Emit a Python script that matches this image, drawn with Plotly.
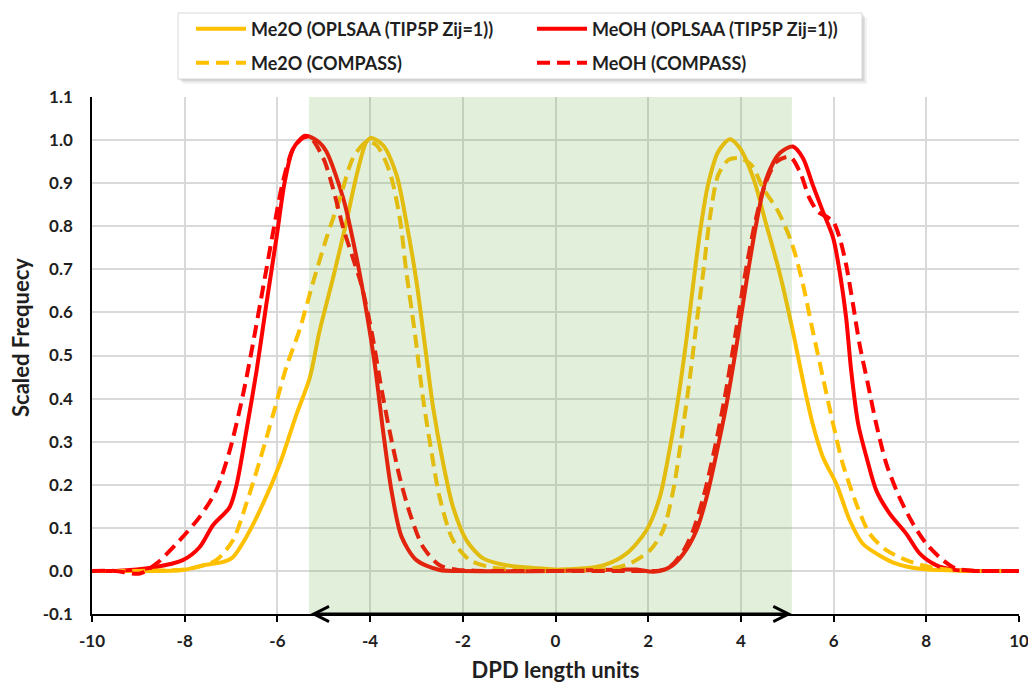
import plotly.graph_objects as go

# Scaled frequency distributions along the DPD length axis
me2o_oplsaa_x = [-10, -9, -8.04, -7.6, -7.17, -6.96, -6.67, -6.31, -5.95, -5.6, -5.30, -5.09,
                 -4.80, -4.51, -4.29, -4.08, -3.97, -3.72, -3.43, -3.22, -3.0, -2.82, -2.64,
                 -2.42, -2.21, -1.92, -1.56, -1.06, -0.48, 0.09, 1.03, 1.53, 1.96, 2.25, 2.47,
                 2.65, 2.83, 2.97, 3.12, 3.29, 3.51, 3.76, 3.98, 4.27, 4.55, 4.84, 5.12, 5.34,
                 5.55, 5.77, 6.06, 6.35, 6.63, 6.99, 7.35, 7.86, 8.29, 9, 10]
me2o_oplsaa_y = [0, 0, 0.002, 0.013, 0.021, 0.032, 0.079, 0.156, 0.248, 0.36, 0.449, 0.557,
                 0.68, 0.811, 0.919, 0.996, 1.005, 0.988, 0.919, 0.811, 0.672, 0.526, 0.379,
                 0.248, 0.148, 0.071, 0.029, 0.013, 0.007, 0.003, 0.013, 0.04, 0.094, 0.171,
                 0.287, 0.402, 0.541, 0.665, 0.788, 0.896, 0.973, 1.002, 0.981, 0.911, 0.803,
                 0.69, 0.557, 0.441, 0.341, 0.264, 0.202, 0.117, 0.063, 0.036, 0.017, 0.005,
                 0.002, 0, 0]

me2o_compass_x = [-10, -9, -7.89, -7.32, -6.96, -6.67, -6.38, -6.09, -5.81, -5.52, -5.23, -4.94,
                  -4.65, -4.37, -4.08, -3.86, -3.58, -3.36, -3.22, -3.04, -2.86, -2.68, -2.50,
                  -2.21, -1.85, -1.42, -1.0, 0, 1.17, 1.6, 2.04, 2.32, 2.54, 2.72, 2.9, 3.04,
                  3.19, 3.33, 3.51, 3.73, 3.98, 4.23, 4.48, 4.80, 5.10, 5.34, 5.55, 5.77, 5.99,
                  6.2, 6.49, 6.78, 7.14, 7.57, 8.07, 8.58, 9.2, 10]
me2o_compass_y = [0, 0, 0.005, 0.025, 0.071, 0.156, 0.256, 0.364, 0.472, 0.56, 0.67, 0.773,
                  0.865, 0.958, 0.996, 0.988, 0.927, 0.819, 0.695, 0.557, 0.402, 0.279, 0.171,
                  0.071, 0.025, 0.009, 0.003, 0, 0.005, 0.017, 0.048, 0.094, 0.187, 0.31, 0.449,
                  0.572, 0.695, 0.819, 0.919, 0.954, 0.958, 0.942, 0.888, 0.835, 0.76, 0.665,
                  0.557, 0.449, 0.341, 0.248, 0.156, 0.086, 0.048, 0.025, 0.009, 0.002, 0, 0]

meoh_oplsaa_x = [-10, -9.5, -8.68, -8.04, -7.68, -7.39, -7.03, -6.88, -6.67, -6.45, -6.24, -6.02,
                 -5.84, -5.66, -5.40, -5.1, -4.94, -4.58, -4.29, -4.08, -3.90, -3.72, -3.54,
                 -3.32, -3.0, -2.5, -2.0, 0, 1.75, 2.11, 2.47, 2.76, 3.04, 3.26, 3.47, 3.69,
                 3.91, 4.12, 4.34, 4.55, 4.84, 5.12, 5.34, 5.55, 5.77, 5.99, 6.13, 6.27, 6.38,
                 6.53, 6.71, 6.92, 7.21, 7.57, 7.86, 8.22, 8.58, 9, 10]
meoh_oplsaa_y = [0, 0, 0.008, 0.025, 0.055, 0.106, 0.148, 0.20, 0.325, 0.464, 0.618, 0.773,
                 0.904, 0.98, 1.01, 0.995, 0.973, 0.865, 0.726, 0.603, 0.48, 0.325, 0.187,
                 0.079, 0.025, 0.002, 0, 0, 0.003, -0.002, 0.009, 0.04, 0.094, 0.171, 0.271,
                 0.387, 0.526, 0.672, 0.811, 0.911, 0.97, 0.985, 0.958, 0.896, 0.834, 0.773,
                 0.695, 0.588, 0.464, 0.341, 0.264, 0.187, 0.133, 0.086, 0.04, 0.013, 0.003,
                 0, 0]

meoh_compass_x = [-10, -9.5, -8.97, -8.61, -8.11, -7.68, -7.32, -7.03, -6.74, -6.53, -6.31, -6.09,
                  -5.88, -5.66, -5.45, -5.30, -5.01, -4.80, -4.58, -4.37, -4.19, -3.97, -3.76,
                  -3.58, -3.36, -3.14, -2.86, -2.5, -2.14, -1.5, 0, 1.5, 2.4, 2.75, 2.97, 3.19,
                  3.44, 3.65, 3.87, 4.09, 4.31, 4.52, 4.77, 5.06, 5.27, 5.48, 5.66, 5.85, 5.99,
                  6.13, 6.27, 6.42, 6.56, 6.74, 6.92, 7.14, 7.42, 7.71, 8.0, 8.36, 8.65, 9.2, 10]
meoh_compass_y = [0, 0, -0.006, 0.017, 0.071, 0.125, 0.187, 0.279, 0.41, 0.526, 0.657, 0.788,
                  0.904, 0.98, 1.005, 1.007, 0.958, 0.888, 0.796, 0.726, 0.665, 0.557, 0.426,
                  0.325, 0.217, 0.133, 0.056, 0.013, 0.003, 0, 0, 0, 0.005, 0.045, 0.094, 0.171,
                  0.287, 0.402, 0.541, 0.688, 0.811, 0.896, 0.950, 0.961, 0.927, 0.865, 0.834,
                  0.822, 0.811, 0.773, 0.711, 0.618, 0.526, 0.434, 0.341, 0.248, 0.171, 0.11,
                  0.063, 0.025, 0.005, 0, 0]

series_names = ["Me2O (OPLSAA (TIP5P Zij=1))", "MeOH (OPLSAA (TIP5P Zij=1))",
                "Me2O (COMPASS)", "MeOH (COMPASS)"]

# Axis ticks and their printed labels (plain hyphen for negatives)
x_tick_values = [-10, -8, -6, -4, -2, 0, 2, 4, 6, 8, 10]
x_tick_labels = ["-10", "-8", "-6", "-4", "-2", "0", "2", "4", "6", "8", "10"]
y_tick_values = [-0.1, 0.0, 0.1, 0.2, 0.3, 0.4, 0.5, 0.6, 0.7, 0.8, 0.9, 1.0, 1.1]
y_tick_labels = ["-0.1", "0.0", "0.1", "0.2", "0.3", "0.4", "0.5", "0.6", "0.7", "0.8",
                 "0.9", "1.0", "1.1"]
x_title = "DPD length units"
y_title = "Scaled Frequecy"

# Highlighted span on the DPD length axis
band_start = -5.32
band_end = 5.10

x_range = [-10, 10]
y_range = [-0.1, 1.1]

ORANGE = "#FFC000"
RED = "#FF0000"
FONT = "Lato"
TEXT = "#1f1f1f"
LW = 4
DASH = "13px,7px"

# plot area geometry (px) used to place frame and titles in paper units
W, H = 1028, 683
ML, MR, MT, MB = 92, 9, 97, 69
PW, PH = W - ML - MR, H - MT - MB


def px_x(p):
    return (p - ML) / PW


def px_y(p):
    return (H - MB - p) / PH


fig = go.Figure()

traces = [
    (me2o_oplsaa_x, me2o_oplsaa_y, series_names[0], ORANGE, "solid", "legend"),
    (meoh_oplsaa_x, meoh_oplsaa_y, series_names[1], RED, "solid", "legend"),
    (me2o_compass_x, me2o_compass_y, series_names[2], ORANGE, DASH, "legend2"),
    (meoh_compass_x, meoh_compass_y, series_names[3], RED, DASH, "legend2"),
]
for xs, ys, name, color, dash, leg in traces:
    fig.add_trace(go.Scatter(
        x=xs, y=ys, name=name, mode="lines", legend=leg,
        line=dict(color=color, width=LW, dash=dash, shape="spline", smoothing=0.8),
    ))

# translucent green band over the highlighted span
fig.add_shape(type="rect", xref="x", yref="y", x0=band_start, x1=band_end,
              y0=y_range[0], y1=y_range[1], fillcolor="#70AD47", opacity=0.2,
              line_width=0, layer="above")

# legend frame with soft drop shadow
box_l, box_r, box_t, box_b = 178, 862, 13, 79
for off, op in [(5, 0.10), (3, 0.14), (1.5, 0.18)]:
    fig.add_shape(type="rect", xref="paper", yref="paper",
                  x0=px_x(box_l + off), x1=px_x(box_r + off),
                  y0=px_y(box_b + off), y1=px_y(box_t + off),
                  fillcolor="#7f7f7f", opacity=op, line_width=0, layer="above")
fig.add_shape(type="rect", xref="paper", yref="paper",
              x0=px_x(box_l), x1=px_x(box_r), y0=px_y(box_b), y1=px_y(box_t),
              fillcolor="white", line=dict(color="#d9d9d9", width=1), layer="above")

# double-headed arrow marking the span
fig.add_annotation(x=band_end, y=y_range[0], ax=band_start, ay=y_range[0],
                   xref="x", yref="y", axref="x", ayref="y", text="",
                   showarrow=True, arrowhead=5, startarrowhead=5, arrowside="end+start",
                   arrowwidth=3, arrowsize=1, startarrowsize=1, arrowcolor="black",
                   standoff=0, startstandoff=0)

tick_font = dict(family=FONT, size=17, color=TEXT, weight="bold")
title_font = dict(family=FONT, size=22, color=TEXT, weight="bold")

# vertical axis title
fig.add_annotation(text=y_title, xref="paper", yref="paper", x=px_x(20), y=px_y(338),
                   xanchor="center", yanchor="middle", textangle=-90, showarrow=False,
                   font=title_font)

legend_common = dict(
    orientation="h", xanchor="left", yanchor="middle", x=px_x(191),
    bgcolor="rgba(0,0,0,0)", borderwidth=0, itemwidth=50,
    entrywidth=276, entrywidthmode="pixels",
    font=dict(family=FONT, size=18, color=TEXT, weight="bold"),
)

fig.update_layout(
    width=W, height=H,
    margin=dict(l=ML, r=MR, t=MT, b=MB, pad=0, autoexpand=False),
    paper_bgcolor="white", plot_bgcolor="white",
    font=dict(family=FONT, color=TEXT),
    legend=dict(y=px_y(29), **legend_common),
    legend2=dict(y=px_y(63), **legend_common),
    xaxis=dict(
        range=x_range, tickmode="array", tickvals=x_tick_values, ticktext=x_tick_labels,
        showgrid=True, gridcolor="#d9d9d9", gridwidth=1.5, automargin=False,
        zeroline=False, showline=True, linecolor="black", linewidth=1.5,
        ticks="outside", ticklen=6, tickwidth=1.5, tickcolor="black", ticklabelstandoff=5,
        ticklabeloverflow="allow", tickfont=tick_font,
        title=dict(text=x_title, standoff=21, font=title_font),
    ),
    yaxis=dict(
        range=y_range, tickmode="array", tickvals=y_tick_values, ticktext=y_tick_labels,
        showgrid=True, gridcolor="#d9d9d9", gridwidth=1.5, zeroline=False, showline=True,
        linecolor="black", linewidth=1.5, ticks="", ticklabelstandoff=14, automargin=False,
        ticklabeloverflow="allow", tickfont=tick_font,
    ),
)

fig.write_html("out.html")
